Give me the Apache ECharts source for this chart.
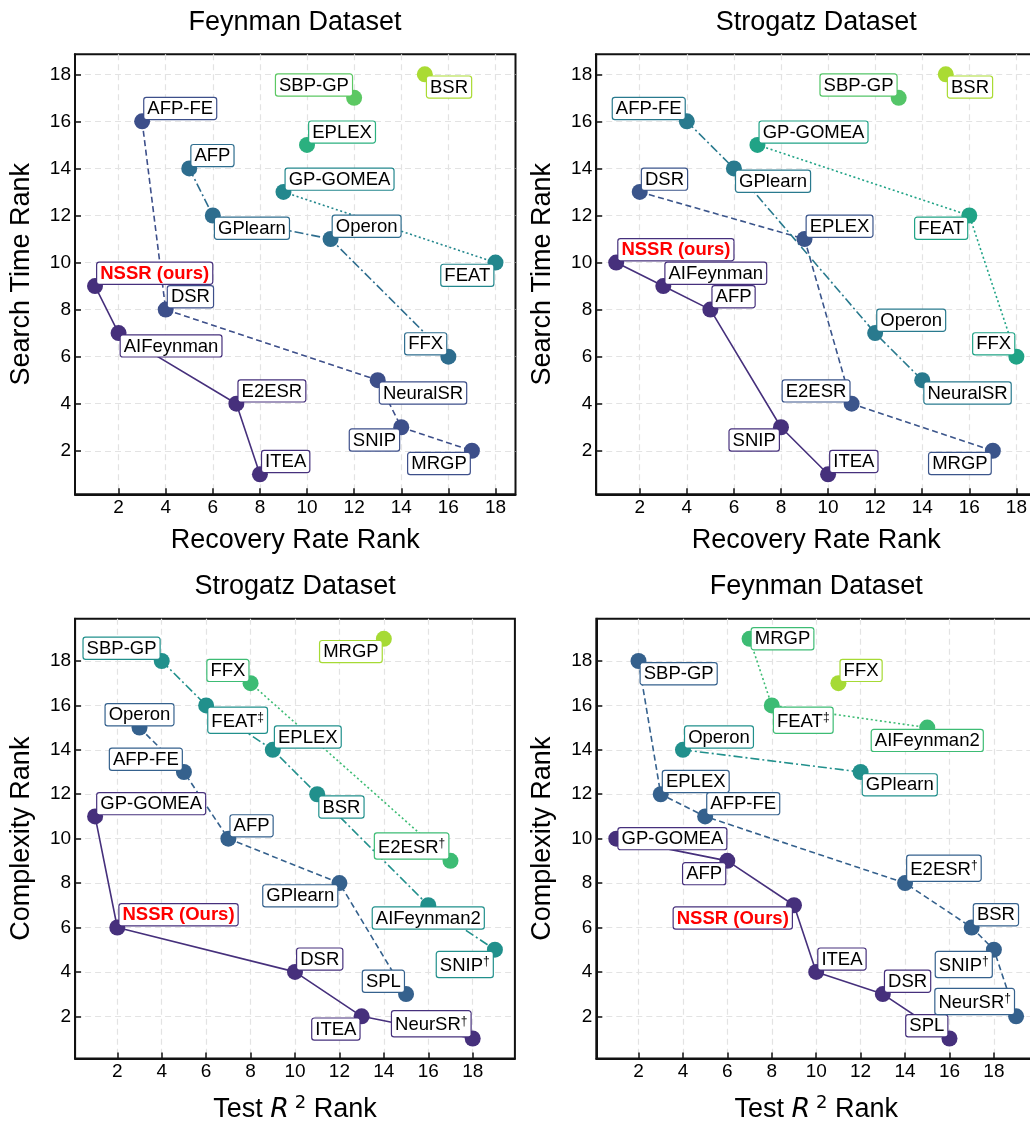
<!DOCTYPE html>
<html><head><meta charset="utf-8">
<script src="https://cdn.jsdelivr.net/npm/echarts@6/dist/echarts.min.js"></script>
<style>html,body{margin:0;padding:0;background:#fff}#c{width:1030px;height:1125px}</style>
</head><body><div id="c"></div>
<script>
const FONT = '"Liberation Sans", Arial, Helvetica, sans-serif';

// ================= DATA =================
// Panel A — Feynman Dataset: Recovery Rate Rank vs Search Time Rank
const feynA_methods  = ['NSSR (ours)','AIFeynman','E2ESR','ITEA','AFP-FE','DSR','NeuralSR','SNIP','MRGP','AFP','GPlearn','Operon','FFX','GP-GOMEA','FEAT','EPLEX','SBP-GP','BSR'];
const feynA_recovery = [1,2,7,8, 3,4,13,14,17, 5,6,11,16, 9,18, 10, 12, 15];
const feynA_search   = [9,7,4,1, 16,8,5,3,2, 14,12,11,6, 13,10, 15, 17, 18];
const feynA_front    = [1,1,1,1, 2,2,2,2,2, 3,3,3,3, 4,4, 5, 6, 7];

// Panel B — Strogatz Dataset: Recovery Rate Rank vs Search Time Rank
const strB_methods  = ['NSSR (ours)','AIFeynman','AFP','SNIP','ITEA','DSR','EPLEX','E2ESR','MRGP','AFP-FE','GPlearn','Operon','NeuralSR','GP-GOMEA','FEAT','FFX','SBP-GP','BSR'];
const strB_recovery = [1,3,5,8,10, 2,9,11,17, 4,6,12,14, 7,16,18, 13, 15];
const strB_search   = [10,9,8,3,1, 13,11,4,2, 16,14,7,5, 15,12,6, 17, 18];
const strB_front    = [1,1,1,1,1, 2,2,2,2, 3,3,3,3, 4,4,4, 5, 6];

// Panel C — Strogatz Dataset: Test R² Rank vs Complexity Rank
const strC_methods    = ['GP-GOMEA','NSSR (Ours)','DSR','ITEA','NeurSR†','Operon','AFP-FE','AFP','GPlearn','SPL','SBP-GP','FEAT‡','EPLEX','BSR','AIFeynman2','SNIP†','FFX','E2ESR†','MRGP'];
const strC_r2         = [1,2,10,13,18, 3,5,7,12,15, 4,6,9,11,16,19, 8,17, 14];
const strC_complexity = [11,6,4,2,1, 15,13,10,8,3, 18,16,14,12,7,5, 17,9, 19];
const strC_front      = [1,1,1,1,1, 2,2,2,2,2, 3,3,3,3,3,3, 4,4, 5];

// Panel D — Feynman Dataset: Test R² Rank vs Complexity Rank
const feynD_methods    = ['GP-GOMEA','AFP','NSSR (Ours)','ITEA','DSR','SPL','SBP-GP','EPLEX','AFP-FE','E2ESR†','BSR','SNIP†','NeurSR†','Operon','GPlearn','MRGP','FEAT‡','AIFeynman2','FFX'];
const feynD_r2         = [1,6,9,10,13,16, 2,3,5,14,17,18,19, 4,12, 7,8,15, 11];
const feynD_complexity = [10,9,7,4,3,1, 18,12,11,8,6,5,2, 14,13, 19,16,15, 17];
const feynD_front      = [1,1,1,1,1,1, 2,2,2,2,2,2,2, 3,3, 4,4,4, 5];

// Tick labels
const tickValues = [2,4,6,8,10,12,14,16,18];

// ================= STYLE / LAYOUT =================
const feynA_labelPos = ['ur','lr','ur','ur', 'ur','ur','lr','ll','ll', 'ur','lr','ur','ul', 'ur','ll', 'ur','ul','lr'];
const strB_labelPos  = ['ur','ur','ur','ll','ur', 'ur','ur','ul','ll', 'ul','lr','ur','lr', 'ur','ll','ul', 'ul','lr'];
const strC_labelPos  = ['ur','ur','ur','ll','ul', 't','ul','ur','ll','ul', 'ul','lr','ur','lr','b','ll', 'ul','ul', 'll'];
const feynD_labelPos = ['r','ll','ll','ur','ur','ul', 'lr','ur','ur','ur','ur','ll','ul', 'ur','lr', 'r','lr','b', 'ur'];

const pal7 = ['#46307c','#3d4f8a','#2e6d8e','#23878d','#2bb07f','#5cc863','#aadb33'];
const pal6 = ['#46307c','#3b558b','#297a8e','#20a386','#54c568','#aadb33'];
const pal5 = ['#46307c','#35618d','#21908c','#3dbc74','#a6da35'];

const panels = [
  {methods:feynA_methods, xs:feynA_recovery, ys:feynA_search, fr:feynA_front, pos:feynA_labelPos, pal:pal7,
   title:'Feynman Dataset', xName:'Recovery Rate Rank', yName:'Search Time Rank',
   box:{left:75, top:54.3, width:440.5, height:440}, lim:[0.15,18.85]},
  {methods:strB_methods, xs:strB_recovery, ys:strB_search, fr:strB_front, pos:strB_labelPos, pal:pal6,
   title:'Strogatz Dataset', xName:'Recovery Rate Rank', yName:'Search Time Rank',
   box:{left:596.2, top:54.3, width:440.2, height:440}, lim:[0.15,18.85]},
  {methods:strC_methods, xs:strC_r2, ys:strC_complexity, fr:strC_front, pos:strC_labelPos, pal:pal5,
   title:'Strogatz Dataset', xName:'R2', yName:'Complexity Rank',
   box:{left:75.1, top:618.8, width:439.8, height:439.7}, lim:[0.1,19.9]},
  {methods:feynD_methods, xs:feynD_r2, ys:feynD_complexity, fr:feynD_front, pos:feynD_labelPos, pal:pal5,
   title:'Feynman Dataset', xName:'R2', yName:'Complexity Rank',
   box:{left:596.3, top:618.8, width:439.8, height:439.7}, lim:[0.1,19.9]}
];

const SYM = 16;
function placement(p){
  const c = SYM/2, gx = 2.2, gy = 2.3;
  switch(p){
    case 'ur': return {position:[c+gx, c-gy], align:'left',   verticalAlign:'bottom'};
    case 'lr': return {position:[c+gx, c+gy], align:'left',   verticalAlign:'top'};
    case 'ul': return {position:[c-gx, c-gy], align:'right',  verticalAlign:'bottom'};
    case 'll': return {position:[c-gx, c+gy], align:'right',  verticalAlign:'top'};
    case 'r':  return {position:[c+gx, c],    align:'left',   verticalAlign:'middle'};
    case 't':  return {position:[c, c-gy],    align:'center', verticalAlign:'bottom'};
    case 'b':  return {position:[c, c+gy],    align:'center', verticalAlign:'top'};
  }
}
function dashFor(f){
  return ['solid',[6,3.5],[9,3,2,3],[2,2.6]][f-1] || 'solid';
}

const grids=[], xAxes=[], yAxes=[], series=[], graphics=[];
panels.forEach((P,i)=>{
  grids.push(Object.assign({show:true, borderColor:'#111', borderWidth:2, backgroundColor:'transparent',
    containLabel:false, outerBoundsMode:'none'}, P.box));
  const xName = P.xName==='R2' ? '{t|Test }{i|R}{p| 2}{t| Rank}' : P.xName;
  const common = {
    type:'value', gridIndex:i, min:P.lim[0], max:P.lim[1],
    axisLine:{show:true, onZero:false, lineStyle:{color:'#111', width:2}},
    axisTick:{show:true, inside:true, length:6, customValues:tickValues, lineStyle:{color:'#111', width:1.5}},
    axisLabel:{show:true, customValues:tickValues, fontSize:19, color:'#000', fontFamily:FONT, margin:4},
    splitLine:{show:true, lineStyle:{color:'#e3e3e3', width:1.2, type:[6,4]}},
    nameLocation:'middle', nameMoveOverlap:false
  };
  xAxes.push(Object.assign({}, common, {
    name:xName, nameGap: P.xName==='R2' ? 36 : 33,
    nameTextStyle:{fontSize:27, color:'#000', fontFamily:FONT,
      rich:{t:{fontSize:27, fontFamily:FONT, color:'#000', lineHeight:30},
            i:{fontSize:27, fontFamily:'"DejaVu Sans"', fontStyle:'italic', color:'#000', lineHeight:30},
            p:{fontSize:18, fontFamily:'"DejaVu Sans"', color:'#000', lineHeight:18, verticalAlign:'top'}}}
  }));
  yAxes.push(Object.assign({}, common, {
    name:P.yName, nameGap:40,
    nameTextStyle:{fontSize:27, color:'#000', fontFamily:FONT}
  }));
  graphics.push({type:'text', x:P.box.left+220, y:P.box.top-32, z:10,
    style:{text:P.title, fontSize:27, fontFamily:FONT, fill:'#000', align:'center', verticalAlign:'middle'}});

  // lines per front
  const fronts = [...new Set(P.fr)];
  fronts.forEach(f=>{
    const idx = P.fr.map((v,k)=>v===f?k:-1).filter(k=>k>=0);
    if(idx.length<2) return;
    const pts = idx.map(k=>[P.xs[k],P.ys[k]]).sort((a,b)=>a[0]-b[0]);
    series.push({type:'line', xAxisIndex:i, yAxisIndex:i, data:pts, symbol:'none', z:2,
      lineStyle:{color:P.pal[f-1], width:1.6, type:dashFor(f)}, silent:true, animation:false});
  });
  // points with labels
  const data = P.methods.map((m,k)=>{
    const col = P.pal[P.fr[k]-1];
    const ours = m.indexOf('NSSR')===0;
    const dag = /[†‡]$/.test(m);
    const base = dag ? m.slice(0,-1) : m;
    const txt = dag ? '{n|'+base+'}{s|'+m.slice(-1)+'}' : '{n|'+base+'}';
    return {value:[P.xs[k],P.ys[k]], name:m, itemStyle:{color:col, opacity:1},
      label:Object.assign({show:true, formatter:txt, backgroundColor:'#fff', borderColor:col, borderWidth:1.2,
        borderRadius:2, padding: dag?[4,3,1,3]:[1,3,0,3], opacity:1,
        rich:{n:{fontSize:18.5, lineHeight:20, fontFamily:FONT, color: ours?'#ff0000':'#000', fontWeight: ours?'bold':'normal'},
              s:{fontSize:12, lineHeight:12, fontFamily:FONT, color:'#000', verticalAlign:'top'}}}, placement(P.pos[k]))};
  });
  series.push({type:'scatter', xAxisIndex:i, yAxisIndex:i, data, symbol:'circle', symbolSize:SYM, z:5,
    itemStyle:{opacity:1}, emphasis:{disabled:true}, animation:false});
});

const chart = echarts.init(document.getElementById('c'), null, {renderer:'canvas'});
chart.setOption({animation:false, backgroundColor:'#fff', textStyle:{fontFamily:FONT},
  grid:grids, xAxis:xAxes, yAxis:yAxes, series, graphic:graphics});
</script></body></html>
